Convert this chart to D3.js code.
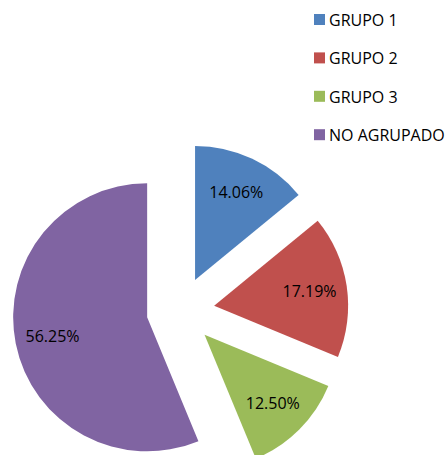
<!DOCTYPE html>
<html>
<head>
<meta charset="utf-8">
<script src="https://cdn.jsdelivr.net/npm/d3@7"></script>
<style>
  body { margin: 0; background: #fff; }
  text { font-family: "Open Sans", sans-serif; fill: #000; }
</style>
</head>
<body>
<svg id="chart"></svg>
<script>
// data
const groups = ["GRUPO 1", "GRUPO 2", "GRUPO 3", "NO AGRUPADO"]
const shares = [14.06, 17.19, 12.50, 56.25]
const colours = ["#4F81BD", "#C0504D", "#9BBB59", "#8064A2"]

const width = 447, height = 455
const cx = 180.5, cy = 310.7
const radius = 134
const explode = 34

const svg = d3.select("#chart")
    .attr("width", width)
    .attr("height", height)

const pie = d3.pie().sort(null).value(d => d.share)
const arc = d3.arc().innerRadius(0).outerRadius(radius)
const labelArc = d3.arc().innerRadius(radius * 0.72).outerRadius(radius * 0.72)

const data = groups.map((g, i) => ({name: g, share: shares[i], colour: colours[i]}))
const arcs = pie(data)

const offset = d => {
    let mid = (d.startAngle + d.endAngle) / 2
    return [cx + explode * Math.sin(mid), cy - explode * Math.cos(mid)]
}

const slices = svg.selectAll(".slice")
    .data(arcs)
    .join("g")
        .attr("class", "slice")
        .attr("transform", d => `translate(${offset(d)})`)

slices.append("path")
    .attr("d", arc)
    .attr("fill", d => d.data.colour)

slices.append("text")
    .attr("transform", d => `translate(${labelArc.centroid(d)})`)
    .attr("text-anchor", "middle")
    .attr("dy", "0.35em")
    .style("font-size", "16px")
    .text(d => d.data.share.toFixed(2) + "%")

// legend
const legend = svg.append("g")
    .attr("transform", "translate(314, 14)")

const rows = legend.selectAll(".row")
    .data(data)
    .join("g")
        .attr("class", "row")
        .attr("transform", (d, i) => `translate(0, ${i * 38.4})`)

rows.append("rect")
    .attr("width", 11)
    .attr("height", 11)
    .attr("fill", d => d.colour)

rows.append("text")
    .attr("x", 15)
    .attr("y", 11.8)
    .style("font-size", "16px")
    .text(d => d.name)
</script>
</body>
</html>
